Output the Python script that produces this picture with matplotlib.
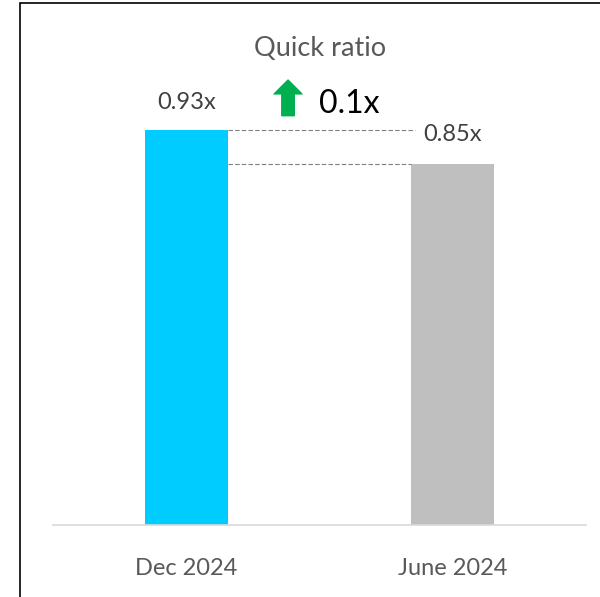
import matplotlib
matplotlib.use("Agg")
import matplotlib.pyplot as plt
from matplotlib.patches import Rectangle

plt.rcParams['font.family'] = ['Lato', 'DejaVu Sans']

periods = ["Dec 2024", "June 2024"]
ratios = [0.93, 0.85]
bar_colors = ["#00CCFF", "#BFBFBF"]
value_labels = ["0.93x", "0.85x"]
change_label = "0.1x"
title = "Quick ratio"

fig = plt.figure(figsize=(6, 5.97), dpi=100)
ax = fig.add_axes([53 / 600, 1 - 525 / 597, 533 / 600, 425 / 597])

x = list(range(len(periods)))
bw = 0.31
ax.bar(x, ratios, width=bw, color=bar_colors, zorder=2)
ax.set_xlim(-0.5, 1.5)
ax.set_ylim(0, 1.0)

# dashed guide lines between the bars
ax.hlines(ratios[0], x[0] + bw / 2, 0.86, colors="#808080", linestyles=(0, (4, 2)), linewidth=0.8)
ax.hlines(ratios[1], x[0] + bw / 2, x[1] - bw / 2, colors="#808080", linestyles=(0, (4, 2)), linewidth=0.8)

# value labels
ax.text(x[0], 0.993, value_labels[0], ha="center", va="center", fontsize=17, color="#404040")
ax.text(x[1], 0.918, value_labels[1], ha="center", va="center", fontsize=17, color="#404040")

# change arrow + label
ax.annotate("", xy=(0.382, 1.047), xytext=(0.382, 0.963), annotation_clip=False,
            arrowprops=dict(arrowstyle="simple,head_length=0.5,head_width=1.0,tail_width=0.45",
                            mutation_scale=20, color="#00B050", shrinkA=0, shrinkB=0))
ax.text(0.61, 0.99, change_label, ha="center", va="center", fontsize=23, color="black")

ax.set_yticks([])
ax.set_xticks(x)
ax.set_xticklabels(periods, fontsize=17, color="#595959")
ax.tick_params(axis="x", length=0, pad=24)
for s in ["top", "left", "right"]:
    ax.spines[s].set_visible(False)
ax.spines["bottom"].set_color("#D9D9D9")
ax.spines["bottom"].set_linewidth(1.2)

fig.text(320 / 600, 1 - 49 / 597, title, ha="center", va="center", fontsize=19.5, color="#595959")

# outer frame (only left and top edges visible)
fig.add_artist(Rectangle((20 / 600, -0.1), 1.2, 1.1 - 3 / 597, transform=fig.transFigure,
                         fill=False, edgecolor="black", linewidth=1.2))

fig.savefig("out.png", dpi=100)
